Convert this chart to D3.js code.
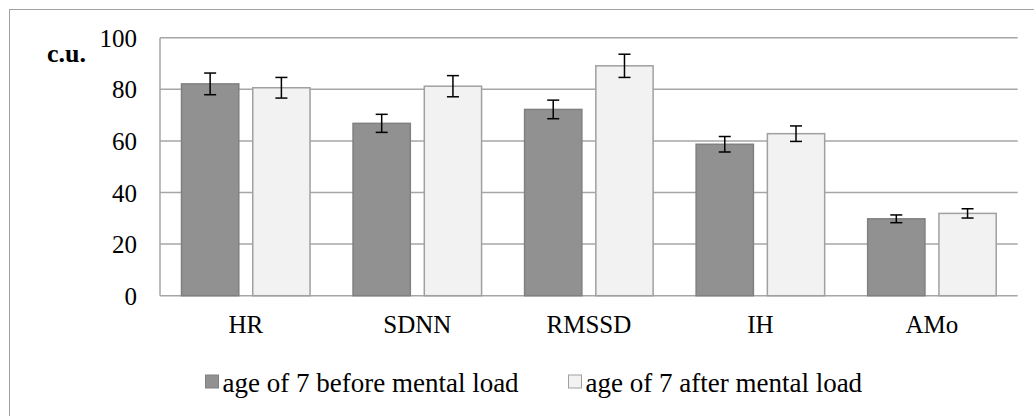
<!DOCTYPE html>
<html>
<head>
<meta charset="utf-8">
<script src="https://cdn.jsdelivr.net/npm/d3@7"></script>
<style>
  body { margin: 0; background: #fff; }
  svg text { font-family: "Liberation Serif", "DejaVu Serif", serif; fill: #000; }
</style>
</head>
<body>
<div id="chart"></div>
<script>
var categories = ["HR", "SDNN", "RMSSD", "IH", "AMo"];
var seriesNames = ["age of 7 before mental load", "age of 7 after mental load"];
var before = [82.1, 66.8, 72.2, 58.7, 29.8];
var beforeErr = [4.2, 3.5, 3.6, 3.0, 1.5];
var after = [80.6, 81.2, 89.1, 62.8, 31.9];
var afterErr = [4.0, 4.1, 4.5, 3.0, 1.8];
var yTicks = [0, 20, 40, 60, 80, 100];

var W = 1034, H = 416;
var margin = {top: 37.7, right: 16.3, bottom: 120.3, left: 160};
var width = W - margin.left - margin.right;
var height = H - margin.top - margin.bottom;

var svg = d3.select("#chart")
  .append("svg")
    .attr("width", W)
    .attr("height", H);

// outer chart border (runs off the right and bottom edges)
svg.append("rect")
  .attr("x", 9.5).attr("y", 9.5)
  .attr("width", W).attr("height", H)
  .attr("fill", "none")
  .attr("stroke", "#a0a0a0")
  .attr("stroke-width", 1);

var g = svg.append("g")
  .attr("transform", "translate(" + margin.left + "," + margin.top + ")");

var x0 = d3.scaleBand().domain(categories).range([0, width]).padding(0);
var x1 = d3.scaleBand().domain([0, 1])
  .range([21.5, x0.bandwidth() - 21.5])
  .paddingInner(0.196).paddingOuter(0);
var y = d3.scaleLinear().domain([0, 100]).range([height, 0]);

// gridlines
g.append("g")
  .selectAll("line")
  .data(yTicks)
  .enter().append("line")
    .attr("x1", 0).attr("x2", width)
    .attr("y1", function(d) { return y(d); })
    .attr("y2", function(d) { return y(d); })
    .attr("stroke", "#a6a6a6")
    .attr("stroke-width", 1.5);

g.append("line")
  .attr("x1", 0).attr("x2", 0)
  .attr("y1", 0).attr("y2", height)
  .attr("stroke", "#a6a6a6")
  .attr("stroke-width", 1.5);

// y axis labels
var yAxis = g.append("g")
  .call(d3.axisLeft(y).tickValues(yTicks).tickSize(0).tickPadding(23));
yAxis.select(".domain").remove();
yAxis.attr("font-family", null);
yAxis.selectAll("text")
  .attr("dy", "0.34em")
  .style("font-size", "25px");

// x axis labels
var xAxis = g.append("g")
  .attr("transform", "translate(0," + height + ")")
  .call(d3.axisBottom(x0).tickSize(0).tickPadding(20));
xAxis.select(".domain").remove();
xAxis.attr("font-family", null);
xAxis.selectAll("text")
  .style("font-size", "25px");

g.append("text")
  .attr("x", -113)
  .attr("y", 24)
  .style("font-size", "26px")
  .style("font-weight", "bold")
  .text("c.u.");

var rows = categories.map(function(c, i) {
  return {cat: c, vals: [
    {s: 0, v: before[i], e: beforeErr[i]},
    {s: 1, v: after[i], e: afterErr[i]}
  ]};
});

var fills = ["#919191", "#f2f2f2"];
var strokes = ["#808080", "#a0a0a0"];

var groups = g.selectAll(".grp")
  .data(rows)
  .enter().append("g")
    .attr("class", "grp")
    .attr("transform", function(d) { return "translate(" + x0(d.cat) + ",0)"; });

groups.selectAll("rect")
  .data(function(d) { return d.vals; })
  .enter().append("rect")
    .attr("x", function(d) { return x1(d.s); })
    .attr("y", function(d) { return y(d.v); })
    .attr("width", x1.bandwidth())
    .attr("height", function(d) { return height - y(d.v); })
    .attr("fill", function(d) { return fills[d.s]; })
    .attr("stroke", function(d) { return strokes[d.s]; })
    .attr("stroke-width", 1.5);

// error bars
var err = groups.selectAll(".err")
  .data(function(d) { return d.vals; })
  .enter().append("g")
    .attr("class", "err")
    .attr("transform", function(d) { return "translate(" + (x1(d.s) + x1.bandwidth() / 2) + ",0)"; });

err.append("line")
  .attr("x1", 0).attr("x2", 0)
  .attr("y1", function(d) { return y(d.v + d.e); })
  .attr("y2", function(d) { return y(d.v - d.e); })
  .attr("stroke", "#000").attr("stroke-width", 1.5);
err.append("line")
  .attr("x1", -6).attr("x2", 6)
  .attr("y1", function(d) { return y(d.v + d.e); })
  .attr("y2", function(d) { return y(d.v + d.e); })
  .attr("stroke", "#000").attr("stroke-width", 1.5);
err.append("line")
  .attr("x1", -6).attr("x2", 6)
  .attr("y1", function(d) { return y(d.v - d.e); })
  .attr("y2", function(d) { return y(d.v - d.e); })
  .attr("stroke", "#000").attr("stroke-width", 1.5);

// legend
var legendX = [205, 568];
var legend = svg.selectAll(".leg")
  .data(seriesNames)
  .enter().append("g")
    .attr("class", "leg")
    .attr("transform", function(d, i) { return "translate(" + legendX[i] + ",374.5)"; });

legend.append("rect")
  .attr("x", 0.5).attr("y", 0.5)
  .attr("width", 13).attr("height", 13)
  .attr("fill", function(d, i) { return fills[i]; })
  .attr("stroke", function(d, i) { return strokes[i]; })
  .attr("stroke-width", 1);

legend.append("text")
  .attr("x", 17.5)
  .attr("y", 17.5)
  .style("font-size", "27px")
  .text(function(d) { return d; });
</script>
</body>
</html>
